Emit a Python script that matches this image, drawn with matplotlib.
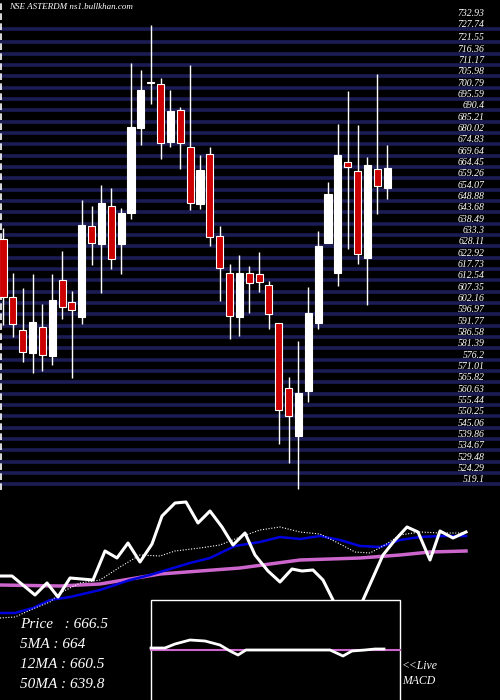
import matplotlib
matplotlib.use("Agg")
import matplotlib.pyplot as plt
from matplotlib.patches import Rectangle

# Candles (open, high, low, close)
opens = [629.4, 602.9, 587.8, 577.2, 589.1, 575.9, 610.7, 600.6, 593.7, 635.4,
         627.1, 644.6, 627.1, 641.3, 680.3, 701.3, 700.4, 673.9, 688.5, 671.6,
         645.5, 668.4, 630.8, 613.9, 593.7, 613.9, 613.4, 608.4, 591.0, 561.2,
         539.2, 559.8, 591.0, 627.6, 613.9, 664.7, 660.6, 620.7, 661.5, 652.8]
highs = [634.5, 613.9, 607.0, 613.4, 599.7, 613.4, 623.9, 605.6, 647.3, 644.6,
         654.2, 652.8, 643.6, 710.0, 706.8, 727.5, 703.2, 697.7, 689.9, 709.1,
         667.9, 671.6, 635.4, 618.0, 622.1, 617.1, 623.5, 610.2, 591.0, 566.2,
         582.7, 607.5, 633.1, 655.5, 682.1, 697.2, 681.7, 667.0, 705.0, 672.5]
lows = [590.1, 584.5, 573.1, 568.1, 569.0, 571.7, 592.8, 565.8, 590.5, 617.5,
        604.7, 615.7, 613.4, 638.6, 672.5, 691.3, 666.1, 671.6, 661.5, 642.7,
        643.2, 626.2, 601.0, 583.6, 585.0, 595.5, 605.2, 588.2, 535.5, 526.9,
        514.9, 554.8, 588.2, 627.6, 607.9, 624.9, 618.0, 599.2, 640.9, 647.8]
closes = [602.9, 590.5, 577.7, 591.4, 576.3, 601.5, 598.3, 596.9, 635.9, 627.6,
          645.9, 620.3, 641.3, 680.7, 697.7, 700.9, 673.4, 688.1, 673.4, 645.9,
          661.0, 630.4, 616.2, 594.2, 613.9, 609.3, 609.7, 595.1, 551.1, 548.4,
          558.9, 595.5, 626.2, 650.0, 667.9, 662.4, 622.6, 663.3, 653.7, 662.0]

price_ticks = ["732.93", "727.74", "721.55", "716.36", "711.17", "705.98", "700.79",
               "695.59", "690.4", "685.21", "680.02", "674.83", "669.64", "664.45",
               "659.26", "654.07", "648.88", "643.68", "638.49", "633.3", "628.11",
               "622.92", "617.73", "612.54", "607.35", "602.16", "596.97", "591.77",
               "586.58", "581.39", "576.2", "571.01", "565.82", "560.63", "555.44",
               "550.25", "545.06", "539.86", "534.67", "529.48", "524.29", "519.1"]

# lower panel lines (panel pixel units, x 0-500, y 490-700)
px_x = [0, 12, 35, 47, 58, 70, 93, 105, 117, 128, 140, 152, 162, 175, 186, 198, 210,
        222, 233, 245, 255, 268, 280, 292, 302, 313, 323, 333, 348, 363, 383, 395,
        407, 418, 430, 440, 453, 466]
px_y = [576, 576, 595, 583, 597, 578, 580, 551, 558, 543, 562, 544, 516, 503, 502,
        523, 511, 527, 545, 533, 555, 571, 582, 569, 571, 570, 580, 600, 640, 600,
        555, 540, 527, 532, 560, 531, 538, 532]
ma12_x = [0, 15, 33, 50, 70, 100, 130, 150, 170, 180, 190, 210, 235, 260, 280, 300,
          320, 340, 360, 380, 400, 420, 440, 466]
ma12_y = [613, 613, 608, 600, 597, 590, 580, 575, 569, 566, 563, 558, 546, 542, 537,
          539, 536, 540, 546, 547, 540, 537, 536, 536]
ma5_x = [0, 15, 35, 50, 60, 80, 100, 120, 140, 160, 175, 200, 220, 240, 260, 280,
         300, 320, 340, 355, 370, 385, 400, 420, 440, 466]
ma5_y = [618, 617, 608, 602, 593, 583, 580, 567, 555, 556, 551, 548, 545, 537, 530,
         527, 532, 534, 544, 552, 553, 545, 535, 532, 533, 533]
ma50_x = [0, 60, 100, 160, 240, 300, 360, 400, 430, 466]
ma50_y = [585, 586, 584, 574, 568, 560, 558, 555, 552, 551]
macd_x = [151, 165, 175, 190, 205, 220, 230, 238, 246, 260, 330, 343, 352, 365, 375, 384]
macd_y = [648, 648, 644, 640, 641, 645, 651, 655, 650, 650, 650, 656, 651, 650, 649, 649]

serif = ["Liberation Serif", "DejaVu Serif"]

fig = plt.figure(figsize=(5, 7), dpi=100, facecolor="black")

# price panel
ax = fig.add_axes([0, 1 - 490 / 700, 1, 490 / 700])
ax.set_facecolor("black")
ax.set_xlim(-0.3, -0.3 + 500 / 9.85)
ax.set_ylim(514.5, 738.9)
ax.axis("off")
for t in price_ticks[1:]:
    ax.axhline(float(t) - 2.0, color="#1c1c55", lw=2.6, zorder=1)
for t in price_ticks:
    ax.text(48.9, float(t), t, color="white", fontsize=7, family=serif,
            style="italic", ha="right", va="center", zorder=3)
ax.axvline(-0.15, color="white", lw=1.2, ls=(0, (4, 2)), zorder=2)

for i in range(len(opens)):
    o, h, l, c = opens[i], highs[i], lows[i], closes[i]
    up = c >= o
    ax.vlines(i, l, h, color="white", lw=1, zorder=4)
    ax.add_patch(Rectangle((i - 0.36, min(o, c)), 0.72, max(abs(c - o), 0.6),
                           facecolor="white" if up else "#cc0000",
                           edgecolor="white", lw=0.8, zorder=5))
ax.text(0.6, 735.5, "NSE ASTERDM ns1.bullkhan.com", color="white", fontsize=6.5,
        family=serif, style="italic", va="center", zorder=6)

# indicator panel
bx = fig.add_axes([0, 0, 1, 210 / 700])
bx.set_facecolor("black")
bx.set_xlim(0, 500)
bx.set_ylim(700, 490)
bx.axis("off")
bx.plot(ma50_x, ma50_y, color="#cc66cc", lw=2.5, zorder=2)
bx.plot(ma12_x, ma12_y, color="#0000dd", lw=1.8, zorder=3)
bx.plot(ma5_x, ma5_y, color="white", lw=0.8, ls=(0, (1, 1.5)), zorder=3)
bx.plot(px_x, px_y, color="white", lw=2.2, zorder=4)
bx.add_patch(Rectangle((151, 600), 249, 102, facecolor="black", edgecolor="white",
                       lw=1, zorder=5))
bx.plot([151, 400], [650, 650], color="#cc66cc", lw=1.5, zorder=6)
bx.plot(macd_x, macd_y, color="white", lw=2, zorder=7)

labels = ["Price   : 666.5", "5MA : 664", "12MA : 660.5", "50MA : 639.8"]
for k, s in enumerate(labels):
    bx.text(20, 625 + 20 * k, s, color="white", fontsize=11, family=serif,
            style="italic", va="center", zorder=8)
bx.text(402, 666, "<<Live", color="white", fontsize=8.5, family=serif,
        style="italic", va="center", zorder=8)
bx.text(402, 681, "MACD", color="white", fontsize=8.5, family=serif,
        style="italic", va="center", zorder=8)

fig.savefig("out.png", dpi=100, facecolor="black")
